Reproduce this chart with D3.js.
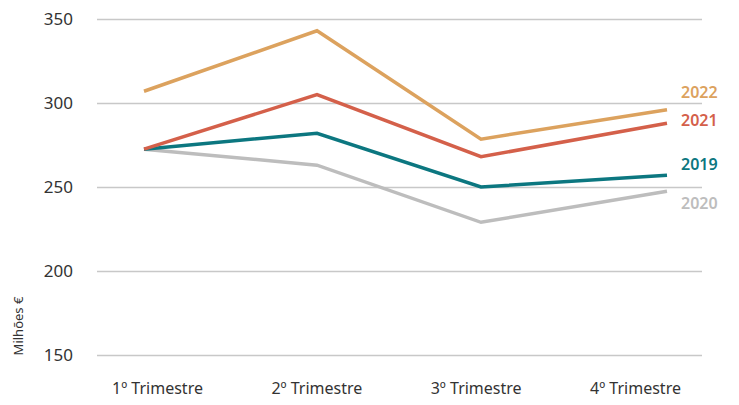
<!DOCTYPE html>
<html>
<head>
<meta charset="utf-8">
<script src="https://cdn.jsdelivr.net/npm/d3@7"></script>
<style>
  body { margin: 0; background: #fff; }
  svg { display: block; font-family: "Noto Sans", sans-serif; }
</style>
</head>
<body>
<div id="chart"></div>
<script>
// Quarterly values (Milhões €)
var quarters = ["1º Trimestre", "2º Trimestre", "3º Trimestre", "4º Trimestre"];
var years = ["2022", "2021", "2019", "2020"];
var values2022 = [307, 343, 278.5, 296];
var values2021 = [272.5, 305, 268, 288];
var values2019 = [272.5, 282, 250, 257];
var values2020 = [272.5, 263, 229, 247.5];
var yTicks = [150, 200, 250, 300, 350];
var colors = ["#DCA25E", "#D4604A", "#0C7780", "#BDBDBD"];

var series = [values2022, values2021, values2019, values2020];

var width = 739;
var height = 405;

var svg = d3.select("#chart")
  .append("svg")
  .attr("width", width)
  .attr("height", height);

// Scales
var yScale = d3.scaleLinear()
  .domain([150, 350])
  .range([355, 19]);

// points are not evenly spaced in the original
var xScale = d3.scaleOrdinal()
  .domain(quarters)
  .range([144, 317, 481, 667]);

var xLabelScale = d3.scalePoint()
  .domain(quarters)
  .range([157, 635]);

// Gridlines + y tick labels
var yAxis = d3.axisLeft(yScale)
  .tickValues(yTicks)
  .tickSize(-(702 - 97))
  .tickPadding(24);

var gy = svg.append("g")
  .attr("class", "yAxis")
  .attr("transform", "translate(97,0)")
  .call(yAxis);

gy.select(".domain").remove();
gy.selectAll(".tick line")
  .attr("stroke", "#c8c8c8")
  .attr("stroke-width", 1.5);
gy.selectAll(".tick text")
  .attr("font-size", 17)
  .attr("fill", "#333")
  .attr("font-family", "Noto Sans");

// x labels
var xAxis = d3.axisBottom(xLabelScale).tickSize(0).tickPadding(0);
var gx = svg.append("g")
  .attr("class", "xAxis")
  .attr("transform", "translate(0,383)")
  .call(xAxis);
gx.select(".domain").remove();
gx.selectAll(".tick text")
  .attr("font-size", 16)
  .attr("fill", "#333")
  .attr("font-family", "Noto Sans");

// Y title
svg.append("text")
  .attr("transform", "translate(23,326) rotate(-90)")
  .attr("text-anchor", "middle")
  .attr("font-size", 13)
  .attr("fill", "#333")
  .text("Milhões €");

// Lines
var line = d3.line()
  .x(function(d, i) { return xScale(quarters[i]); })
  .y(function(d) { return yScale(d); });

// draw back to front so the grey line sits under the others
for (var i = series.length - 1; i >= 0; i--) {
  svg.append("path")
    .datum(series[i])
    .attr("fill", "none")
    .attr("stroke", colors[i])
    .attr("stroke-width", 3.5)
    .attr("stroke-linejoin", "miter")
    .attr("d", line);
}

// Year labels at the right
var labelY = [92, 120, 164, 203];
years.forEach(function(y, i) {
  svg.append("text")
    .attr("x", 681)
    .attr("y", labelY[i])
    .attr("dy", "0.35em")
    .attr("font-size", 16)
    .attr("font-weight", 600)
    .attr("fill", colors[i])
    .text(y);
});
</script>
</body>
</html>
